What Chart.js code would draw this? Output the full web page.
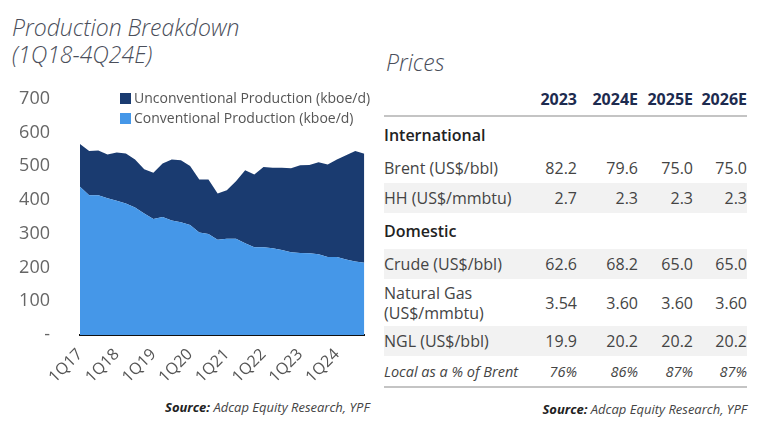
<!DOCTYPE html>
<html>
<head>
<meta charset="utf-8">
<script src="https://cdn.jsdelivr.net/npm/chart.js@4.4.1/dist/chart.umd.min.js"></script>
<style>
  body { margin: 0; width: 780px; height: 445px; background: #fff; font-family: "Open Sans", sans-serif; overflow: hidden; position: relative; }
  .title { position: absolute; left: 12px; font-style: italic; font-weight: 300; font-size: 23px; color: #4a4e5a; line-height: 28px; }
  #chartBox { position: absolute; left: 0; top: 66px; width: 380px; height: 324px; }
  .legend { position: absolute; left: 120px; font-size: 14px; color: #555; line-height: 20px; }
  .legend span.sw { display: inline-block; width: 11px; height: 11px; margin-right: 3px; vertical-align: -1px; }
  .source { position: absolute; font-style: italic; font-size: 13px; color: #444; }
  .source b { font-weight: 700; color: #222; }
  table { position: absolute; left: 384px; top: 83px; border-collapse: collapse; font-size: 16px; color: #444; }
  td { padding: 0; white-space: nowrap; }
  td.v { text-align: right; }
  tr.hdr td { height: 32px; font-weight: 700; color: #1d2b4f; border-bottom: 2px solid #c4c4c4; }
  tr.sec td { height: 36px; font-weight: 600; color: #222; }
  tr.row td { height: 30px; }
  tr.shade td { background: #f2f2f2; }
  tr.two td { height: 47px; line-height: 20px; }
  tr.last td { height: 30px; font-style: italic; font-size: 14.5px; border-bottom: 2px solid #c4c4c4; }
</style>
</head>
<body>
<div class="title" style="top:13px">Production Breakdown</div>
<div class="title" style="top:40px">(1Q18-4Q24E)</div>
<div id="chartBox"><canvas id="prod"></canvas></div>
<div class="legend" style="top:88px"><span class="sw" style="background:#1a3b70"></span>Unconventional Production (kboe/d)</div>
<div class="legend" style="top:108px"><span class="sw" style="background:#4597e8"></span>Conventional Production (kboe/d)</div>
<div class="source" style="left:165px; top:398px"><b>Source:</b> Adcap Equity Research, YPF</div>

<div class="title" style="left:386px; top:48px">Prices</div>
<table id="prices"></table>
<div class="source" style="right:33px; top:400px"><b>Source:</b> Adcap Equity Research, YPF</div>

<script>
"use strict";

// Quarters 1Q17 - 4Q24
var quarters = [];
for (var y = 17; y <= 24; y++) {
    for (var q = 1; q <= 4; q++) quarters.push(q + "Q" + y);
}

// Production (kboe/d)
var conventional = [439, 414, 414, 405, 398, 390, 378, 360, 344, 350, 339, 334, 326, 304, 299, 282,
                    285, 285, 272, 260, 260, 257, 252, 245, 243, 242, 239, 231, 231, 224, 218, 214];
var totalProduction = [566, 545, 547, 535, 541, 538, 520, 491, 481, 508, 520, 518, 501, 461, 461, 419,
                       429, 456, 488, 476, 498, 496, 496, 494, 503, 504, 512, 505, 520, 533, 545, 537];
var unconventional = totalProduction.map(function (t, i) { return t - conventional[i]; });

// Prices table
var priceYears = ["2023", "2024E", "2025E", "2026E"];
var brent = ["82.2", "79.6", "75.0", "75.0"];
var henryHub = ["2.7", "2.3", "2.3", "2.3"];
var crude = ["62.6", "68.2", "65.0", "65.0"];
var naturalGas = ["3.54", "3.60", "3.60", "3.60"];
var ngl = ["19.9", "20.2", "20.2", "20.2"];
var localPctBrent = ["76%", "86%", "87%", "87%"];

// Build table
var colWidths = [141, 52, 61, 55, 54];
function row(cls, label, vals) {
    var html = '<tr class="' + cls + '"><td style="width:' + colWidths[0] + 'px">' + label + '</td>';
    for (var i = 0; i < 4; i++) {
        html += '<td class="v" style="width:' + colWidths[i + 1] + 'px">' + (vals ? vals[i] : "") + '</td>';
    }
    return html + '</tr>';
}
document.getElementById("prices").innerHTML =
    row("hdr", "", priceYears) +
    row("sec", "International") +
    row("row", "Brent (US$/bbl)", brent) +
    row("row shade", "HH (US$/mmbtu)", henryHub) +
    row("sec", "Domestic") +
    row("row shade", "Crude (US$/bbl)", crude) +
    row("two", "Natural Gas<br>(US$/mmbtu)", naturalGas) +
    row("row shade", "NGL (US$/bbl)", ngl) +
    row("last", "Local as a % of Brent", localPctBrent);

// Chart
new Chart(document.getElementById("prod"), {
    type: "line",
    data: {
        labels: quarters,
        datasets: [{
            label: "Conventional Production (kboe/d)",
            data: conventional,
            backgroundColor: "#4597e8",
            borderWidth: 0,
            pointRadius: 0,
            fill: "origin"
        }, {
            label: "Unconventional Production (kboe/d)",
            data: unconventional,
            backgroundColor: "#1a3b70",
            borderWidth: 0,
            pointRadius: 0,
            fill: "-1"
        }]
    },
    options: {
        responsive: true,
        maintainAspectRatio: false,
        animation: false,
        layout: { padding: { left: 0, right: 12, top: 0, bottom: 0 } },
        plugins: { legend: { display: false }, tooltip: { enabled: false } },
        scales: {
            x: {
                grid: { display: false },
                border: { display: true, color: "#111", width: 2 },
                ticks: {
                    autoSkip: false,
                    maxRotation: 45,
                    minRotation: 45,
                    padding: 2,
                    color: "#555",
                    font: { family: "Open Sans", size: 16 },
                    callback: function (v, i) { return i % 4 === 0 ? quarters[i] : ""; }
                },
                afterFit: function (s) { s.height = 55; }
            },
            y: {
                stacked: true,
                min: 0,
                max: 700,
                grid: { display: false },
                border: { display: false },
                ticks: {
                    stepSize: 100,
                    padding: 22,
                    color: "#666",
                    font: { family: "Open Sans", size: 18 },
                    callback: function (v) { return v === 0 ? "-" : v; }
                },
                afterFit: function (s) { s.width = 80; }
            }
        }
    }
});
</script>
</body>
</html>
